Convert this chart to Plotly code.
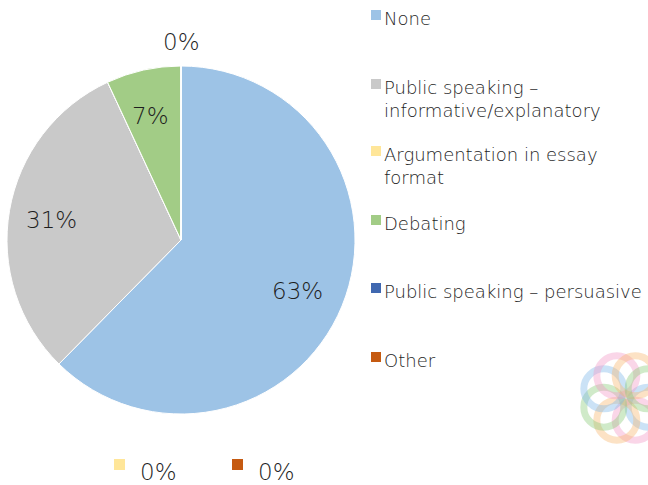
import math
import plotly.graph_objects as go

W, H = 648, 485

labels = ["None", "Public speaking –<br>informative/explanatory", "Argumentation in essay<br>format",
          "Debating", "Public speaking – persuasive", "Other"]
values = [63, 31, 0, 7, 0, 0]
colors = ["#9DC3E6", "#C9C9C9", "#FFE699", "#A2CC86", "#4068B0", "#C55A11"]

FONT = "DejaVu Sans"
TXT = "#1e1e1e"

def px(x):
    return x / W

def py(y):
    return 1 - y / H

cx, cy, r = 181, 240, 174

fig = go.Figure(go.Pie(
    labels=labels, values=values, sort=False, direction="clockwise", rotation=0,
    marker=dict(colors=colors, line=dict(color="white", width=1)),
    textinfo="none",
    domain=dict(x=[px(cx - r), px(cx + r)], y=[py(cy + r), py(cy - r)]),
    showlegend=False, hoverinfo="label+percent",
))

annotations = []
shapes = []

# slice labels placed along each slice's mid-angle
total = sum(values)
cum = 0
for v in values:
    if v > 0:
        mid = (cum + v / 2) / total * 2 * math.pi
        d = 0.74 * r
        lx = cx + d * math.sin(mid)
        ly = cy - d * math.cos(mid)
        annotations.append(dict(text=f"{v}%", xref="paper", yref="paper", x=px(lx - 3), y=py(ly + 2),
                                xanchor="center", yanchor="middle", showarrow=False,
                                font=dict(family=FONT, size=23, color=TXT, weight=200)))
    cum += v

# manual legend
sq_tops = [10, 79, 146, 215, 283, 352]
for lab, col, top in zip(labels, colors, sq_tops):
    shapes.append(dict(type="rect", xref="paper", yref="paper",
                       x0=px(371), x1=px(381), y0=py(top + 10), y1=py(top),
                       fillcolor=col, line=dict(width=0)))
    annotations.append(dict(text=lab, xref="paper", yref="paper", x=px(382), y=py(top - 4),
                            xanchor="left", yanchor="top", showarrow=False, align="left",
                            font=dict(family=FONT, size=18, color=TXT, weight=200)))

# zero-value labels
annotations.append(dict(text=f"{values[4]}%", xref="paper", yref="paper", x=px(181), y=py(42),
                        xanchor="center", yanchor="middle", showarrow=False,
                        font=dict(family=FONT, size=23, color=TXT, weight=200)))
for idx, sqx in ((2, 114), (5, 232)):
    shapes.append(dict(type="rect", xref="paper", yref="paper",
                       x0=px(sqx), x1=px(sqx + 11), y0=py(470), y1=py(459),
                       fillcolor=colors[idx], line=dict(width=0)))
    annotations.append(dict(text=f"{values[idx]}%", xref="paper", yref="paper", x=px(sqx + 24), y=py(472),
                            xanchor="left", yanchor="middle", showarrow=False,
                            font=dict(family=FONT, size=23, color=TXT, weight=200)))

# decorative logo
lcx, lcy = 626, 398
logo_cols = ["#7FB8EA", "#F39AC8", "#F9B870", "#8CCB7A"]
for k in range(8):
    a = math.radians(k * 45 + 22.5)
    ccx = lcx + 24 * math.cos(a)
    ccy = lcy + 24 * math.sin(a)
    rr = 20
    shapes.append(dict(type="circle", xref="paper", yref="paper",
                       x0=px(ccx - rr), x1=px(ccx + rr), y0=py(ccy + rr), y1=py(ccy - rr),
                       line=dict(color=logo_cols[k % 4], width=7), opacity=0.4, layer="above"))

fig.update_layout(width=W, height=H, margin=dict(l=0, r=0, t=0, b=0),
                  paper_bgcolor="white", plot_bgcolor="white",
                  annotations=annotations, shapes=shapes,
                  font=dict(family=FONT, color=TXT))

fig.write_html("out.html", config={"displayModeBar": False},
               post_script="document.body.style.margin='0';document.body.style.overflow='hidden';")
